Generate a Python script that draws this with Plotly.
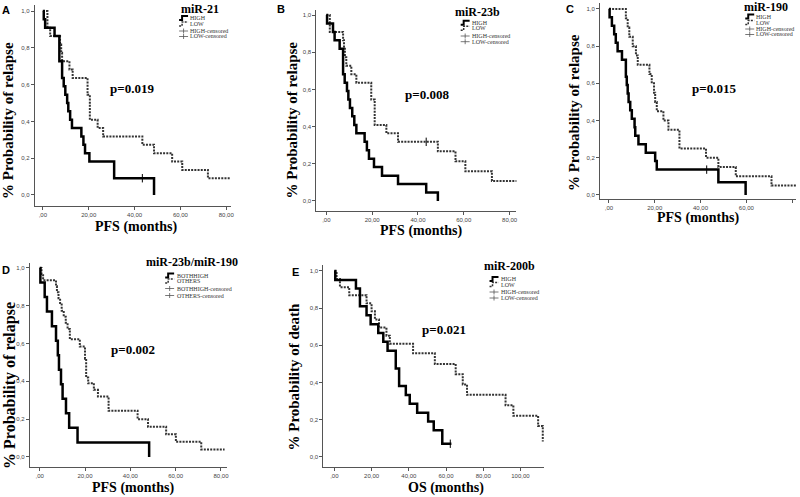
import plotly.graph_objects as go

W, H = 800, 497

# ---------------- data ----------------
# Panel A  miR-21 (PFS)
A_high_t = [0, 0.4, 1.0, 5.1, 7.2, 8.4, 9.1, 9.8, 10.6, 11.1, 11.9, 12.7, 16.8, 17.7, 18.4, 20.3, 31.1, 48.5]
A_high_s = [1.0, 0.955, 0.909, 0.864, 0.727, 0.636, 0.591, 0.545, 0.5, 0.455, 0.409, 0.364, 0.318, 0.273, 0.227, 0.182, 0.091, 0.0]
A_high_c = [43.4]
A_low_t = [0, 2.0, 3.2, 7.5, 8.0, 8.4, 11.6, 13.0, 19.5, 20.5, 23.9, 26.3, 43.4, 48.5, 56.4, 60.8, 72.0, 81.8]
A_low_s = [1.0, 0.909, 0.864, 0.818, 0.773, 0.727, 0.682, 0.636, 0.545, 0.409, 0.364, 0.318, 0.273, 0.227, 0.182, 0.136, 0.091, 0.091]
A_low_c = []

# Panel B  miR-23b (PFS)
B_high_t = [0, 0.3, 2.9, 3.6, 5.8, 7.3, 8.0, 9.0, 9.6, 10.3, 11.3, 12.2, 13.1, 16.7, 17.7, 18.6, 20.8, 24.3, 31.3, 43.6, 48.7]
B_high_s = [1.0, 0.955, 0.909, 0.864, 0.818, 0.682, 0.636, 0.591, 0.545, 0.5, 0.455, 0.409, 0.364, 0.318, 0.273, 0.227, 0.182, 0.136, 0.091, 0.045, 0.0]
B_high_c = []
B_low_t = [0, 1.5, 7.3, 7.7, 8.1, 8.7, 10.9, 13.1, 19.6, 21.1, 26.2, 31.3, 48.7, 56.4, 60.7, 72.3, 83.3]
B_low_s = [1.0, 0.909, 0.864, 0.818, 0.773, 0.727, 0.682, 0.636, 0.545, 0.409, 0.364, 0.318, 0.267, 0.213, 0.16, 0.107, 0.107]
B_low_c = [43.6]

# Panel C  miR-190 (PFS)
C_high_t = [0, 0.3, 1.3, 2.3, 3.0, 3.8, 5.7, 7.4, 7.8, 8.2, 8.6, 9.3, 10.0, 11.2, 11.5, 12.9, 16.1, 20.2, 20.9, 47.8, 59.7]
C_high_s = [1.0, 0.955, 0.909, 0.864, 0.818, 0.773, 0.727, 0.636, 0.591, 0.545, 0.5, 0.455, 0.409, 0.364, 0.318, 0.273, 0.227, 0.182, 0.136, 0.068, 0.0]
C_high_c = [42.7]
C_low_t = [0, 7.4, 8.2, 8.9, 10.4, 11.8, 12.6, 17.7, 18.7, 19.7, 20.2, 20.9, 23.8, 26.0, 30.8, 42.4, 47.8, 55.4, 71.0, 81.9]
C_low_s = [1.0, 0.95, 0.9, 0.85, 0.8, 0.75, 0.7, 0.65, 0.6, 0.55, 0.5, 0.45, 0.4, 0.35, 0.25, 0.2, 0.15, 0.1, 0.05, 0.05]
C_low_c = []

# Panel D  miR-23b/miR-190 (PFS)
D_high_t = [0, 0.3, 2.2, 3.2, 5.4, 7.2, 8.0, 8.5, 9.4, 10.1, 11.6, 13.0, 16.7, 48.3]
D_high_s = [1.0, 0.923, 0.846, 0.769, 0.692, 0.615, 0.538, 0.462, 0.385, 0.308, 0.231, 0.154, 0.077, 0.0]
D_high_c = []
D_low_t = [0, 0.8, 1.5, 7.2, 7.6, 8.3, 9.0, 9.7, 10.6, 11.5, 12.3, 13.3, 17.7, 20.0, 20.5, 21.4, 23.9, 25.7, 30.4, 43.2, 47.8, 55.8, 60.1, 71.3, 81.6]
D_low_s = [1.0, 0.968, 0.935, 0.903, 0.871, 0.839, 0.806, 0.774, 0.742, 0.71, 0.677, 0.623, 0.584, 0.52, 0.42, 0.39, 0.355, 0.32, 0.245, 0.2, 0.16, 0.12, 0.08, 0.04, 0.04]
D_low_c = []

# Panel E  miR-200b (OS)
E_high_t = [0, 0.5, 11.6, 13.75, 17.3, 19.5, 23.6, 26.3, 28.6, 33.0, 34.8, 38.4, 40.5, 44.5, 50.4, 53.4, 58.0, 62.9]
E_high_s = [1.0, 0.952, 0.905, 0.81, 0.762, 0.714, 0.667, 0.619, 0.571, 0.476, 0.381, 0.333, 0.286, 0.238, 0.19, 0.143, 0.071, 0.071]
E_high_c = [62.3]
E_low_t = [0, 1.2, 3.0, 8.0, 17.3, 20.0, 21.8, 24.0, 28.0, 29.8, 42.3, 54.0, 65.2, 69.0, 71.3, 92.0, 96.2, 109.5, 112.0]
E_low_s = [1.0, 0.957, 0.913, 0.87, 0.826, 0.783, 0.739, 0.696, 0.652, 0.609, 0.557, 0.5, 0.445, 0.39, 0.334, 0.278, 0.222, 0.167, 0.083]
E_low_c = []

y_ticks = [0.0, 0.2, 0.4, 0.6, 0.8, 1.0]
y_ticktext = ["0,0", "0,2", "0,4", "0,6", "0,8", "1,0"]
pfs_ticks = [0, 20, 40, 60, 80]
pfs_ticktext = [",00", "20,00", "40,00", "60,00", "80,00"]
os_ticks = [0, 20, 40, 60, 80, 100]
os_ticktext = [",00", "20,00", "40,00", "60,00", "80,00", "100,00"]

titles = ["miR-21", "miR-23b", "miR-190", "miR-23b/miR-190", "miR-200b"]
pvalues = ["p=0.019", "p=0.008", "p=0.015", "p=0.002", "p=0.021"]
letters = ["A", "B", "C", "D", "E"]
ylabels = ["% Probability of relapse"] * 4 + ["% Probability of death"]
xlabels = ["PFS (months)"] * 4 + ["OS (months)"]
legend_std = ["HIGH", "LOW", "HIGH-censored", "LOW-censored"]
legend_d = ["BOTHHIGH", "OTHERS", "BOTHHIGH-censored", "OTHERS-censored"]

# ---------------- layout geometry (pixels) ----------------
panels = [
    dict(high=(A_high_t, A_high_s, A_high_c), low=(A_low_t, A_low_s, A_low_c),
         dx=(35, 232), dy=(5, 206), xr=[-3.5, 82], yr=[-0.06, 1.033], xt=(pfs_ticks, pfs_ticktext),
         title=(201, 9), leg=(180, 189, [18, 24, 31, 36.5]), legtext=legend_std,
         p=(133, 88), letter=(6, 10), ylab=(8, 120, 15), xlab=(137, 227)),
    dict(high=(B_high_t, B_high_s, B_high_c), low=(B_low_t, B_low_s, B_low_c),
         dx=(318, 519), dy=(10, 211), xr=[-4.35, 83], yr=[-0.054, 1.027], xt=(pfs_ticks, pfs_ticktext),
         title=(480, 12), leg=(463, 472, [22.7, 28.3, 36, 41.7]), legtext=legend_std,
         p=(429, 94), letter=(282, 9), ylab=(293, 120, 15), xlab=(423, 231)),
    dict(high=(C_high_t, C_high_s, C_high_c), low=(C_low_t, C_low_s, C_low_c),
         dx=(603, 800), dy=(3, 199), xr=[-3.9, 81.7], yr=[-0.022, 1.032], xt=(pfs_ticks, pfs_ticktext),
         title=(770, 7), leg=(749, 758, [16.5, 22.5, 29, 34.5]), legtext=legend_std,
         p=(718, 89), letter=(573, 9), ylab=(577, 113, 15), xlab=(702, 218)),
    dict(high=(D_high_t, D_high_s, D_high_c), low=(D_low_t, D_low_s, D_low_c),
         dx=(30, 228), dy=(263, 467), xr=[-4.35, 82.6], yr=[-0.053, 1.026], xt=(pfs_ticks, pfs_ticktext),
         title=(193, 262), leg=(166, 176, [275.5, 281, 288.5, 295.5]), legtext=legend_d,
         p=(134, 349), letter=(6, 270), ylab=(10, 385, 16), xlab=(134, 488)),
    dict(high=(E_high_t, E_high_s, E_high_c), low=(E_low_t, E_low_s, E_low_c),
         dx=(325, 547), dy=(265, 467), xr=[-5.9, 112.8], yr=[-0.054, 1.032], xt=(os_ticks, os_ticktext),
         title=(512, 266), leg=(492, 502, [279, 284.5, 292, 298]), legtext=legend_std,
         p=(446, 329), letter=(297, 272), ylab=(295, 377, 15), xlab=(448, 488)),
]


def pxx(x):
    return x / W


def pyy(y):
    return 1 - y / H


def step_value(ts, ss, t):
    v = ss[0]
    for ti, si in zip(ts, ss):
        if ti <= t:
            v = si
    return v


fig = go.Figure()
annotations = []
shapes = []
serif = "Liberation Serif"
DOT = "2px,1.2px"

for i, p in enumerate(panels):
    n = "" if i == 0 else str(i + 1)
    xa, ya = "x" + n, "y" + n
    for grp, style in (("low", dict(color="#333", width=2, dash=DOT)),
                       ("high", dict(color="black", width=2.5))):
        t, s, c = p[grp]
        fig.add_trace(go.Scatter(x=t, y=s, mode="lines", line=dict(shape="hv", **style),
                                 xaxis=xa, yaxis=ya, showlegend=False, hoverinfo="skip"))
        if c:
            fig.add_trace(go.Scatter(x=c, y=[step_value(t, s, ci) for ci in c], mode="markers",
                                     marker=dict(symbol="line-ns-open", size=6, color="black",
                                                 line=dict(width=1, color="black")),
                                     xaxis=xa, yaxis=ya, showlegend=False, hoverinfo="skip"))
    axis_common = dict(showline=True, linecolor="#555", linewidth=1, ticks="outside", ticklen=3,
                       tickcolor="#555", tickwidth=1, showgrid=False, zeroline=False,
                       tickfont=dict(family="Liberation Sans", size=6, color="#444"))
    fig.layout["xaxis" + n] = dict(domain=[pxx(p["dx"][0]), pxx(p["dx"][1])], range=p["xr"],
                                   anchor=ya, tickvals=p["xt"][0], ticktext=p["xt"][1], **axis_common)
    fig.layout["yaxis" + n] = dict(domain=[pyy(p["dy"][1]), pyy(p["dy"][0])], range=p["yr"],
                                   anchor=xa, tickvals=y_ticks, ticktext=y_ticktext, **axis_common)

    # texts
    annotations.append(dict(x=pxx(p["title"][0]), y=pyy(p["title"][1]), xref="paper", yref="paper",
                            text="<b>" + titles[i] + "</b>", showarrow=False, xanchor="center", yanchor="middle",
                            font=dict(family=serif, size=12, color="black")))
    annotations.append(dict(x=pxx(p["p"][0]), y=pyy(p["p"][1]), xref="paper", yref="paper",
                            text="<b>" + pvalues[i] + "</b>", showarrow=False, xanchor="center", yanchor="middle",
                            font=dict(family=serif, size=13, color="black")))
    annotations.append(dict(x=pxx(p["letter"][0]), y=pyy(p["letter"][1]), xref="paper", yref="paper",
                            text="<b>" + letters[i] + "</b>", showarrow=False, xanchor="center", yanchor="middle",
                            font=dict(family="Liberation Sans", size=11, color="black")))
    annotations.append(dict(x=pxx(p["ylab"][0]), y=pyy(p["ylab"][1]), xref="paper", yref="paper",
                            text="<b>" + ylabels[i] + "</b>", showarrow=False, textangle=-90,
                            xanchor="center", yanchor="middle",
                            font=dict(family=serif, size=p["ylab"][2], color="black")))
    annotations.append(dict(x=pxx(p["xlab"][0]), y=pyy(p["xlab"][1]), xref="paper", yref="paper",
                            text="<b>" + xlabels[i] + "</b>", showarrow=False,
                            xanchor="center", yanchor="middle",
                            font=dict(family=serif, size=14, color="black")))

    # legend block
    gx, tx, ys = p["leg"]
    for k, (yy, lab) in enumerate(zip(ys, p["legtext"])):
        annotations.append(dict(x=pxx(tx), y=pyy(yy), xref="paper", yref="paper", text=lab,
                                showarrow=False, xanchor="left", yanchor="middle",
                                font=dict(family=serif, size=6, color="#333")))
        if k < 2:
            path = "M {} {} L {} {} L {} {} L {} {}".format(
                pxx(gx), pyy(yy + 2), pxx(gx + 3), pyy(yy + 2),
                pxx(gx + 3), pyy(yy - 2), pxx(gx + 9), pyy(yy - 2))
            shapes.append(dict(type="path", path=path, xref="paper", yref="paper",
                               line=dict(color="black" if k == 0 else "#333", width=2 if k == 0 else 1.5,
                                         dash="solid" if k == 0 else DOT)))
        else:
            shapes.append(dict(type="line", x0=pxx(gx), x1=pxx(gx + 9), y0=pyy(yy), y1=pyy(yy),
                               xref="paper", yref="paper", line=dict(color="#555", width=0.8)))
            shapes.append(dict(type="line", x0=pxx(gx + 4.5), x1=pxx(gx + 4.5), y0=pyy(yy - 2.5),
                               y1=pyy(yy + 2.5), xref="paper", yref="paper", line=dict(color="#555", width=0.8)))

fig.update_layout(width=W, height=H, autosize=False, margin=dict(l=0, r=0, t=0, b=0),
                  paper_bgcolor="white", plot_bgcolor="white", annotations=annotations, shapes=shapes,
                  showlegend=False)

fig.write_html("out.html", config={"displayModeBar": False},
               post_script="document.body.style.margin='0px';document.body.style.overflow='hidden';")
